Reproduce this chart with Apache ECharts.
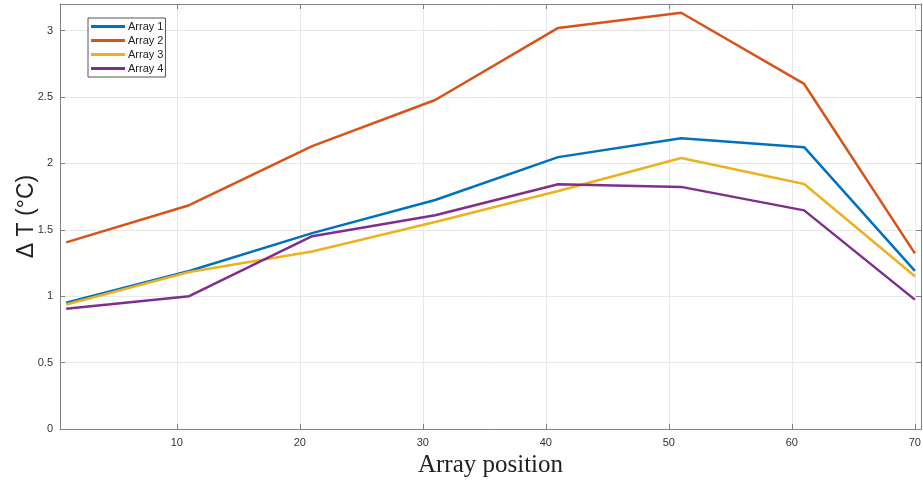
<!DOCTYPE html>
<html>
<head>
<meta charset="utf-8">
<script src="https://cdn.jsdelivr.net/npm/echarts@6/dist/echarts.min.js"></script>
<style>
  html, body { margin: 0; padding: 0; background: #fff; }
  #chart { width: 923px; height: 480px; }
</style>
</head>
<body>
<div id="chart"></div>
<script>
// positions along the array
const positions = [1, 11, 21, 31, 41, 51, 61, 70];
// temperature rise for each array
const array1 = [0.95, 1.19, 1.475, 1.724, 2.047, 2.19, 2.122, 1.19];
const array2 = [1.405, 1.685, 2.13, 2.477, 3.02, 3.134, 2.598, 1.322];
const array3 = [0.937, 1.182, 1.337, 1.558, 1.792, 2.041, 1.845, 1.15];
const array4 = [0.906, 1.0, 1.452, 1.609, 1.843, 1.823, 1.646, 0.974];
const seriesNames = ['Array 1', 'Array 2', 'Array 3', 'Array 4'];
const xTicks = [10, 20, 30, 40, 50, 60, 70];

const colors = ['#0072BD', '#D95319', '#EDB120', '#7E2F8E'];
const axisGray = '#808080';
const labelColor = '#333';

function pairs(ys) {
  return positions.map((x, i) => [x, ys[i]]);
}

const chart = echarts.init(document.getElementById('chart'));

const option = {
  animation: false,
  color: colors,
  grid: {
    left: 60,
    right: 2,
    top: 4,
    bottom: 51,
    outerBoundsMode: 'none',
  },
  legend: {
    orient: 'vertical',
    left: 88,
    top: 18,
    padding: [2, 2, 2, 3],
    itemGap: 1,
    itemWidth: 34,
    itemHeight: 3,
    icon: 'rect',
    borderColor: '#555',
    borderWidth: 1,
    borderRadius: 0,
    backgroundColor: '#fff',
    textStyle: {
      fontFamily: 'Liberation Sans',
      fontSize: 11,
      color: '#222',
      padding: [0, 0, 0, -2],
      lineHeight: 13,
    },
    data: seriesNames,
  },
  xAxis: [
    {
      type: 'value',
      min: 0.5,
      max: 70.5,
      name: 'Array position',
      nameLocation: 'middle',
      nameGap: 21,
      nameTextStyle: {
        fontFamily: 'Liberation Serif',
        fontSize: 25,
        color: '#222',
      },
      axisLine: { onZero: false, lineStyle: { color: axisGray } },
      axisTick: { inside: true, length: 5, customValues: xTicks, lineStyle: { color: axisGray } },
      axisLabel: {
        customValues: xTicks,
        margin: 8,
        fontFamily: 'Liberation Sans',
        fontSize: 11,
        color: labelColor,
      },
      splitLine: { show: true, lineStyle: { color: '#e8e8e8' } },
    },
    {
      type: 'value',
      position: 'top',
      min: 0.5,
      max: 70.5,
      axisLine: { show: true, onZero: false, lineStyle: { color: axisGray } },
      axisTick: { inside: true, length: 5, customValues: xTicks, lineStyle: { color: axisGray } },
      axisLabel: { show: false },
      splitLine: { show: false },
    },
  ],
  yAxis: [
    {
      type: 'value',
      min: 0,
      max: 3.2,
      interval: 0.5,
      name: 'Δ T (°C)',
      nameLocation: 'middle',
      nameMoveOverlap: false,
      nameGap: 22,
      nameTextStyle: {
        fontFamily: 'Liberation Sans',
        fontSize: 23,
        color: '#222',
      },
      axisLine: { show: true, onZero: false, lineStyle: { color: axisGray } },
      axisTick: { show: true, inside: true, length: 5, lineStyle: { color: axisGray } },
      axisLabel: {
        showMaxLabel: false,
        margin: 7,
        fontFamily: 'Liberation Sans',
        fontSize: 11,
        color: labelColor,
      },
      splitLine: { show: true, lineStyle: { color: '#e8e8e8' } },
    },
    {
      type: 'value',
      position: 'right',
      min: 0,
      max: 3.2,
      interval: 0.5,
      axisLine: { show: true, onZero: false, lineStyle: { color: axisGray } },
      axisTick: { show: true, inside: true, length: 5, lineStyle: { color: axisGray } },
      axisLabel: { show: false },
      splitLine: { show: false },
    },
  ],
  series: [array1, array2, array3, array4].map((ys, i) => ({
    name: seriesNames[i],
    type: 'line',
    data: pairs(ys),
    showSymbol: false,
    lineStyle: { width: 2.5 },
  })),
};

chart.setOption(option);
</script>
</body>
</html>
